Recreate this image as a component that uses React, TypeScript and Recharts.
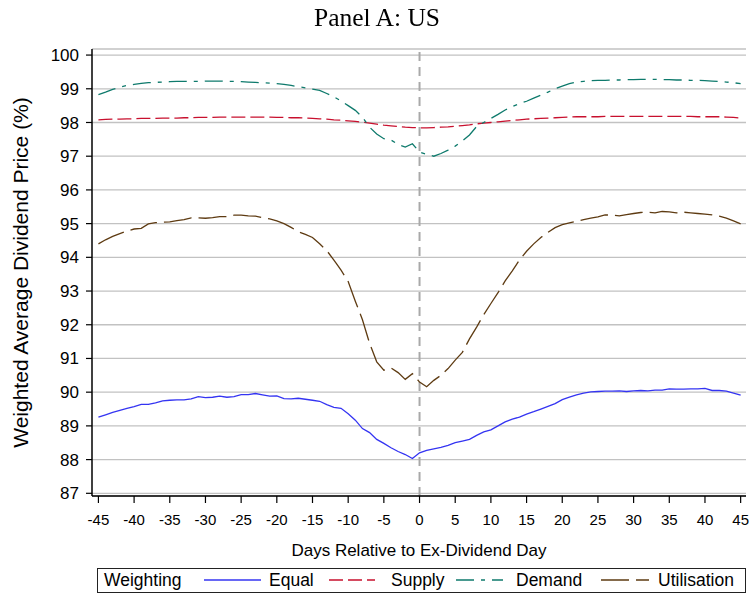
import React from 'react';
import { LineChart, Line, XAxis, YAxis, CartesianGrid, ReferenceLine, Legend } from 'recharts';

const days = [
  -45, -44, -43, -42, -41, -40, -39, -38, -37, -36,
  -35, -34, -33, -32, -31, -30, -29, -28, -27, -26,
  -25, -24, -23, -22, -21, -20, -19, -18, -17, -16,
  -15, -14, -13, -12, -11, -10, -9, -8, -7, -6,
  -5, -4, -3, -2, -1, 0, 1, 2, 3, 4,
  5, 6, 7, 8, 9, 10, 11, 12, 13, 14,
  15, 16, 17, 18, 19, 20, 21, 22, 23, 24,
  25, 26, 27, 28, 29, 30, 31, 32, 33, 34,
  35, 36, 37, 38, 39, 40, 41, 42, 43, 44,
  45,
];

const equal = [
  89.26, 89.33, 89.40, 89.46, 89.52, 89.57, 89.64, 89.64, 89.68, 89.74,
  89.76, 89.77, 89.77, 89.80, 89.87, 89.84, 89.85, 89.88, 89.85, 89.87,
  89.93, 89.93, 89.96, 89.92, 89.88, 89.89, 89.81, 89.80, 89.82, 89.79,
  89.76, 89.73, 89.63, 89.55, 89.52, 89.36, 89.17, 88.92, 88.80, 88.60,
  88.48, 88.35, 88.24, 88.15, 88.03, 88.20, 88.27, 88.32, 88.36, 88.42,
  88.50, 88.55, 88.60, 88.72, 88.82, 88.88, 89.00, 89.12, 89.20, 89.26,
  89.35, 89.42, 89.50, 89.58, 89.66, 89.78, 89.85, 89.92, 89.97, 90.01,
  90.02, 90.03, 90.03, 90.04, 90.02, 90.04, 90.05, 90.04, 90.06, 90.06,
  90.10, 90.09, 90.09, 90.10, 90.10, 90.11, 90.05, 90.05, 90.03, 89.97,
  89.91,
];

const supply = [
  98.08, 98.09, 98.10, 98.10, 98.11, 98.11, 98.12, 98.12, 98.12, 98.13,
  98.13, 98.13, 98.14, 98.14, 98.15, 98.15, 98.15, 98.16, 98.16, 98.16,
  98.16, 98.16, 98.16, 98.16, 98.16, 98.15, 98.15, 98.14, 98.14, 98.13,
  98.12, 98.11, 98.10, 98.08, 98.07, 98.05, 98.03, 98.01, 97.98, 97.95,
  97.92, 97.90, 97.88, 97.86, 97.85, 97.84, 97.84, 97.85, 97.86, 97.87,
  97.89, 97.91, 97.93, 97.96, 97.98, 98.00, 98.02, 98.04, 98.06, 98.08,
  98.10, 98.11, 98.12, 98.13, 98.14, 98.15, 98.16, 98.17, 98.17, 98.17,
  98.17, 98.18, 98.18, 98.18, 98.18, 98.18, 98.18, 98.18, 98.18, 98.18,
  98.18, 98.18, 98.18, 98.18, 98.17, 98.17, 98.17, 98.17, 98.16, 98.15,
  98.13,
];

const demand = [
  98.83, 98.90, 98.98, 99.05, 99.10, 99.13, 99.16, 99.18, 99.19, 99.20,
  99.21, 99.22, 99.22, 99.22, 99.22, 99.23, 99.23, 99.23, 99.22, 99.22,
  99.21, 99.20, 99.19, 99.18, 99.17, 99.15, 99.13, 99.10, 99.06, 99.03,
  98.99, 98.95, 98.86, 98.76, 98.64, 98.50, 98.36, 98.16, 97.86, 97.66,
  97.52, 97.48, 97.35, 97.27, 97.37, 97.12, 97.05, 97.00, 97.08, 97.18,
  97.30, 97.45, 97.63, 97.88, 98.00, 98.12, 98.24, 98.37, 98.47, 98.56,
  98.63, 98.72, 98.81, 98.90, 99.00, 99.08, 99.15, 99.20, 99.22, 99.24,
  99.25, 99.25, 99.26, 99.26, 99.27, 99.27, 99.28, 99.28, 99.28, 99.27,
  99.27, 99.26, 99.26, 99.25, 99.25, 99.24, 99.23, 99.22, 99.20, 99.18,
  99.15,
];

const utilisation = [
  94.40, 94.52, 94.62, 94.70, 94.78, 94.84, 94.86, 94.99, 95.03, 95.04,
  95.05, 95.09, 95.12, 95.17, 95.17, 95.16, 95.18, 95.21, 95.21, 95.25,
  95.25, 95.23, 95.22, 95.18, 95.14, 95.08, 95.00, 94.89, 94.76, 94.68,
  94.59, 94.40, 94.20, 93.92, 93.62, 93.28, 92.70, 92.15, 91.45, 90.90,
  90.65, 90.72, 90.58, 90.38, 90.55, 90.30, 90.16, 90.35, 90.50, 90.70,
  90.95, 91.18, 91.58, 91.93, 92.30, 92.63, 92.95, 93.30, 93.60, 93.92,
  94.18, 94.40, 94.59, 94.74, 94.88, 94.97, 95.02, 95.07, 95.12, 95.16,
  95.20, 95.26, 95.25, 95.23, 95.27, 95.30, 95.33, 95.34, 95.32, 95.36,
  95.35, 95.32, 95.34, 95.32, 95.30, 95.28, 95.26, 95.22, 95.16, 95.08,
  94.99,
];

const xTicks = [-45, -40, -35, -30, -25, -20, -15, -10, -5, 0, 5, 10, 15, 20, 25, 30, 35, 40, 45];
const yTicks = [87, 88, 89, 90, 91, 92, 93, 94, 95, 96, 97, 98, 99, 100];

const seriesNames = ['Equal', 'Supply', 'Demand', 'Utilisation'];
const seriesKeys = ['equal', 'supply', 'demand', 'utilisation'];
const seriesColors = ['#3434f2', '#c8102e', '#0e7a6c', '#5e3b12'];
const seriesDashes = ['', '14 5', '18 7 4 7', '28 7'];

const data = days.map((d, i) => ({
  day: d,
  equal: equal[i],
  supply: supply[i],
  demand: demand[i],
  utilisation: utilisation[i],
}));

const FONT = '"Liberation Sans", Arial, sans-serif';

function YLabel(props: any) {
  const vb = props.viewBox || {};
  const cx = 12;
  const cy = vb.y + vb.height / 2;
  return (
    <text
      x={cx}
      y={cy}
      transform={`rotate(-90 ${cx} ${cy})`}
      textAnchor="middle"
      dominantBaseline="central"
      fontFamily={FONT}
      fontSize={21}
      fill="#000"
    >
      Weighted Average Dividend Price (%)
    </text>
  );
}

function XLabel(props: any) {
  const vb = props.viewBox || {};
  const cx = vb.x + vb.width / 2;
  const cy = vb.y + 54;
  return (
    <text x={cx} y={cy} textAnchor="middle" dominantBaseline="central" fontFamily={FONT} fontSize={17} fill="#000">
      Days Relative to Ex-Dividend Day
    </text>
  );
}

const lineLefts = [106, 231, 358, 503];
const lineLens = [57, 46, 47, 48];
const textLefts = [171, 293, 418, 560];

function LegendBox() {
  return (
    <div
      style={{
        position: 'relative',
        width: 649,
        height: 25,
        border: '1.5px solid #222',
        boxSizing: 'border-box',
        fontFamily: FONT,
        fontSize: 17.5,
        background: '#fff',
        color: '#000',
      }}
    >
      <span style={{ position: 'absolute', left: 6, top: 1, lineHeight: '20px', whiteSpace: 'nowrap' }}>Weighting</span>
      {seriesNames.map((name, i) => (
        <React.Fragment key={name}>
          <svg style={{ position: 'absolute', left: lineLefts[i], top: 5 }} width={lineLens[i]} height={12}>
            <line
              x1={0}
              y1={6}
              x2={lineLens[i]}
              y2={6}
              stroke={seriesColors[i]}
              strokeWidth={1.4}
              strokeDasharray={seriesDashes[i] || undefined}
            />
          </svg>
          <span style={{ position: 'absolute', left: textLefts[i], top: 1, lineHeight: '20px', whiteSpace: 'nowrap' }}>{name}</span>
        </React.Fragment>
      ))}
    </div>
  );
}

export default function App() {
  return (
    <div style={{ position: 'fixed', left: 8, top: 8, width: 742, height: 587, background: '#fff' }}>
      <div
        style={{
          position: 'absolute',
          left: 0,
          top: -4,
          width: 738,
          textAlign: 'center',
          fontFamily: '"Liberation Serif", "Times New Roman", serif',
          fontSize: 25.5,
          lineHeight: '28px',
          color: '#000',
          zIndex: 2,
        }}
      >
        Panel A: US
      </div>
      <LineChart
        width={742}
        height={587}
        data={data}
        margin={{ top: 41, right: 4, bottom: 0, left: 0 }}
      >
        <CartesianGrid horizontal vertical={false} stroke="#c2c2c2" strokeWidth={1.3} />
        <XAxis
          dataKey="day"
          type="number"
          domain={[-45.9, 45.75]}
          ticks={xTicks}
          allowDataOverflow
          interval={0}
          height={74}
          tickSize={7}
          tickMargin={11}
          axisLine={{ stroke: '#000', strokeWidth: 1.5 }}
          tickLine={{ stroke: '#000', strokeWidth: 1.2 }}
          tick={{ fill: '#000', fontSize: 15, fontFamily: FONT }}
          label={<XLabel />}
        />
        <XAxis
          xAxisId="top"
          orientation="top"
          type="number"
          domain={[-45.9, 45.75]}
          height={0}
          tick={false}
          tickLine={false}
          axisLine={{ stroke: '#444', strokeWidth: 2 }}
        />
        <YAxis
          type="number"
          domain={[86.92, 100.18]}
          ticks={yTicks}
          allowDataOverflow
          interval={0}
          width={84}
          tickSize={6}
          tickMargin={7}
          axisLine={{ stroke: '#000', strokeWidth: 1.5 }}
          tickLine={{ stroke: '#000', strokeWidth: 1.2 }}
          tick={{ fill: '#000', fontSize: 17, fontFamily: FONT }}
          label={<YLabel />}
        />
        <YAxis
          yAxisId="right"
          orientation="right"
          type="number"
          domain={[86.92, 100.18]}
          width={0}
          tick={false}
          tickLine={false}
          axisLine={{ stroke: '#333', strokeWidth: 1.5 }}
        />
        <ReferenceLine x={0} stroke="#a9a9a9" strokeWidth={2} strokeDasharray="9 6" />
        {seriesKeys.map((k, i) => (
          <Line
            key={k}
            type="linear"
            dataKey={k}
            name={seriesNames[i]}
            stroke={seriesColors[i]}
            strokeWidth={1.3}
            strokeDasharray={seriesDashes[i] || undefined}
            dot={false}
            activeDot={false}
            isAnimationActive={false}
          />
        ))}
        <Legend
          layout="vertical"
          verticalAlign="bottom"
          align="center"
          content={<LegendBox />}
          wrapperStyle={{ left: 89, top: 560, bottom: 'auto', width: 649, height: 25 }}
        />
      </LineChart>
    </div>
  );
}
